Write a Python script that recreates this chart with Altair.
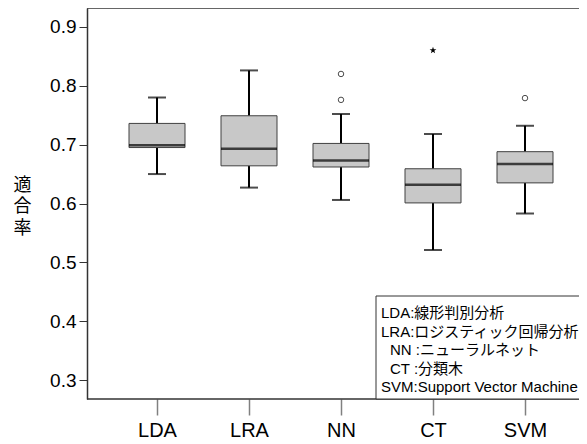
import altair as alt
import pandas as pd

methods = ["LDA", "LRA", "NN", "CT", "SVM"]
lower = [0.650, 0.627, 0.606, 0.521, 0.583]
q1 = [0.695, 0.664, 0.662, 0.601, 0.635]
median = [0.699, 0.693, 0.673, 0.632, 0.667]
q3 = [0.736, 0.749, 0.702, 0.659, 0.688]
upper = [0.780, 0.826, 0.752, 0.718, 0.732]

outlier_methods = ["NN", "NN", "SVM"]
outlier_values = [0.820, 0.776, 0.779]
extreme_methods = ["CT"]
extreme_values = [0.860]

y_ticks = [0.3, 0.4, 0.5, 0.6, 0.7, 0.8, 0.9]
legend_lines = [
    "LDA:線形判別分析",
    "LRA:ロジスティック回帰分析",
    " NN :ニューラルネット",
    " CT :分類木",
    "SVM:Support Vector Machine",
]

stats = pd.DataFrame({"method": methods, "lower": lower, "q1": q1,
                      "median": median, "q3": q3, "upper": upper})
outl = pd.DataFrame({"method": outlier_methods, "value": outlier_values})
ext = pd.DataFrame({"method": extreme_methods, "value": extreme_values})
one = pd.DataFrame({"k": [0]})

W, H = 492, 391
FONT = "Liberation Sans, Arial, Noto Sans CJK JP"
STAR = ("M0,-1L0.24,-0.33L0.95,-0.31L0.38,0.12L0.59,0.81L0,0.4L-0.59,0.81"
        "L-0.38,0.12L-0.95,-0.31L-0.24,-0.33Z")

xscale = alt.Scale(type="point", domain=methods, range=[70, 438], padding=0)
yscale = alt.Scale(domain=[0.268, 0.932], nice=False, zero=False)

x = alt.X("method:N", scale=xscale, sort=methods,
          axis=alt.Axis(title=None, labelAngle=0, labelFontSize=20, labelFont=FONT,
                        labelColor="black", ticks=True, tickSize=16,
                        tickColor="#808080", tickWidth=1.5, domain=False,
                        labelPadding=5, grid=False))
yaxis = alt.Axis(values=y_ticks, format=".1f", tickSize=8, tickColor="#333333",
                 tickWidth=1, labelFontSize=19, labelFont=FONT, labelColor="black",
                 labelPadding=3, domainColor="#333333", domainWidth=1.5, grid=False,
                 title=["適", "合", "率"], titleAngle=0, titleFontSize=18,
                 titleFont="Noto Sans CJK JP", titleFontWeight="normal",
                 titleColor="black", titleX=-65, titleY=168, titleLineHeight=21.5,
                 titleAlign="center", titleBaseline="top")

base = alt.Chart(stats)
ann = alt.Chart(one)

whisk_lo = base.mark_rule(color="black", strokeWidth=2).encode(
    x=x, y=alt.Y("lower:Q", scale=yscale, axis=yaxis), y2="q1:Q")
whisk_hi = base.mark_rule(color="black", strokeWidth=2).encode(
    x=x, y=alt.Y("q3:Q", scale=yscale), y2="upper:Q")
cap_lo = base.mark_tick(color="black", size=18, thickness=2).encode(
    x=x, y=alt.Y("lower:Q", scale=yscale))
cap_hi = base.mark_tick(color="black", size=18, thickness=2).encode(
    x=x, y=alt.Y("upper:Q", scale=yscale))
box = base.mark_bar(size=56, fill="#c8c8c8", stroke="#404040", strokeWidth=1).encode(
    x=x, y=alt.Y("q1:Q", scale=yscale), y2="q3:Q")
med = base.mark_tick(color="black", size=56, thickness=2.5).encode(
    x=x, y=alt.Y("median:Q", scale=yscale))

out_pts = alt.Chart(outl).mark_point(shape="circle", size=30, color="black",
                                     strokeWidth=1, filled=False).encode(
    x=x, y=alt.Y("value:Q", scale=yscale))
ext_pts = alt.Chart(ext).mark_point(shape=STAR, size=50, color="black",
                                    filled=True, opacity=1).encode(
    x=x, y=alt.Y("value:Q", scale=yscale))

top_border = ann.mark_rule(color="#333333", strokeWidth=1.5).encode(
    x=alt.value(0), x2=alt.value(W + 10), y=alt.value(0))
bottom_border = ann.mark_rule(color="#333333", strokeWidth=1.5).encode(
    x=alt.value(0), x2=alt.value(W + 10), y=alt.value(H))

legend_box = ann.mark_rect(fill="white", stroke="#333333", strokeWidth=1).encode(
    x=alt.value(289), x2=alt.value(W + 10), y=alt.value(288), y2=alt.value(H))

legend_layers = [
    ann.mark_text(text=line.strip(), align="left", baseline="alphabetic",
                  fontSize=15, font=FONT, color="black").encode(
        x=alt.value(303 if line.startswith(" ") else 294),
        y=alt.value(310 + i * 18.6))
    for i, line in enumerate(legend_lines)
]

chart = alt.layer(
    whisk_lo, whisk_hi, cap_lo, cap_hi, box, med, out_pts, ext_pts,
    top_border, bottom_border, legend_box, *legend_layers
).properties(
    width=W, height=H,
    autosize=alt.AutoSizeParams(type="none"),
    padding={"left": 79, "top": 0, "right": 0, "bottom": 45},
).configure_view(strokeWidth=0)

chart.save("out.html", embed_options={"renderer": "svg", "actions": False})
